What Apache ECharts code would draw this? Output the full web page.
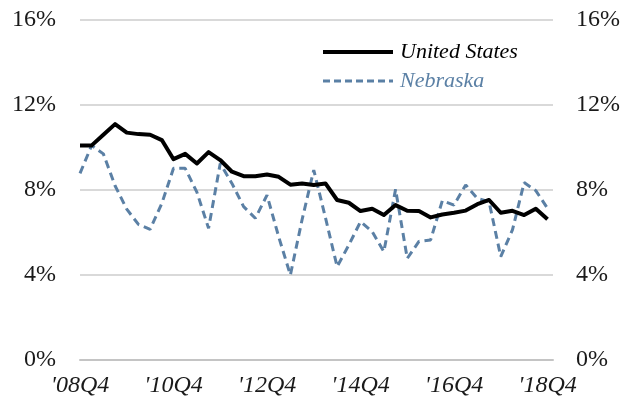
<!DOCTYPE html>
<html>
<head>
<meta charset="utf-8">
<script src="https://cdn.jsdelivr.net/npm/echarts@6/dist/echarts.min.js"></script>
<style>html,body{margin:0;padding:0;background:#fff;}#c{width:636px;height:409px;}</style>
</head>
<body>
<div id="c"></div>
<script>
var quarters = ["'08Q4","'09Q1","'09Q2","'09Q3","'09Q4","'10Q1","'10Q2","'10Q3","'10Q4","'11Q1","'11Q2","'11Q3","'11Q4","'12Q1","'12Q2","'12Q3","'12Q4","'13Q1","'13Q2","'13Q3","'13Q4","'14Q1","'14Q2","'14Q3","'14Q4","'15Q1","'15Q2","'15Q3","'15Q4","'16Q1","'16Q2","'16Q3","'16Q4","'17Q1","'17Q2","'17Q3","'17Q4","'18Q1","'18Q2","'18Q3","'18Q4"];
var tickLabels = ["'08Q4","'10Q4","'12Q4","'14Q4","'16Q4","'18Q4"];
var unitedStates = [10.1,10.1,10.6,11.1,10.7,10.63,10.6,10.35,9.45,9.7,9.25,9.78,9.41,8.86,8.65,8.65,8.73,8.62,8.25,8.31,8.24,8.31,7.53,7.4,7.01,7.12,6.82,7.29,7.02,7.01,6.71,6.85,6.93,7.03,7.33,7.53,6.93,7.02,6.82,7.12,6.62];
var nebraska = [8.78,10.1,9.7,8.2,7.1,6.38,6.15,7.37,9.02,9.02,7.9,6.2,9.25,8.31,7.22,6.67,7.76,5.8,4.0,6.6,8.94,6.7,4.39,5.41,6.51,6.04,5.1,8.03,4.78,5.58,5.65,7.5,7.29,8.24,7.6,7.45,4.86,6.12,8.35,7.97,7.14];
var seriesNames = ["United States","Nebraska"];

var usColor = '#000000';
var neColor = '#5b80a5';
var font = 'Liberation Serif';

function pairs(arr){ return arr.map(function(v,i){ return [i, v]; }); }

var chart = echarts.init(document.getElementById('c'), null, {renderer:'canvas'});
chart.setOption({
  animation: false,
  backgroundColor: '#ffffff',
  grid: {left: 80, right: 83, top: 20, bottom: 49, containLabel: false},
  legend: {
    orient: 'vertical',
    left: 316, top: 36,
    itemWidth: 70, itemHeight: 14, itemGap: 7,
    itemStyle: {opacity: 0},
    data: [
      {name: seriesNames[0], textStyle: {color: usColor}, lineStyle: {width: 4, color: usColor}},
      {name: seriesNames[1], textStyle: {color: neColor}, lineStyle: {width: 3, color: neColor, type: [7, 4]}}
    ],
    textStyle: {fontFamily: font, fontStyle: 'italic', fontSize: 22, padding: [0,0,0,2]}
  },
  xAxis: {
    type: 'value',
    min: 0, max: 40.47, interval: 8,
    axisLine: {show: true, onZero: false, lineStyle: {color: '#c4c4c4', width: 2}},
    axisTick: {show: false}, splitLine: {show: false},
    axisLabel: {
      margin: 14,
      fontFamily: font, fontStyle: 'italic', fontSize: 24, color: '#1a1a1a',
      showMaxLabel: false,
      formatter: function(v){
        if (Math.abs(v - Math.round(v)) > 1e-6) return '';
        var i = Math.round(v);
        if (i % 8 !== 0) return '';
        return tickLabels[i/8] || '';
      }
    }
  },
  yAxis: [
    {
      type: 'value', position: 'left', min: 0, max: 16, interval: 4,
      axisLine: {show: false}, axisTick: {show: false},
      splitLine: {show: true, lineStyle: {color: '#d9d9d9', width: 2}},
      axisLabel: {margin: 24, fontFamily: font, fontSize: 24, color: '#1a1a1a', formatter: '{value}%'}
    },
    {
      type: 'value', position: 'right', min: 0, max: 16, interval: 4,
      axisLine: {show: false}, axisTick: {show: false}, splitLine: {show: false},
      axisLabel: {margin: 23, fontFamily: font, fontSize: 24, color: '#1a1a1a', formatter: '{value}%'}
    }
  ],
  series: [
    {
      name: seriesNames[0], type: 'line', symbol: 'none', z: 3,
      data: pairs(unitedStates),
      lineStyle: {color: usColor, width: 4, join: 'round'},
      itemStyle: {color: usColor}
    },
    {
      name: seriesNames[1], type: 'line', symbol: 'none', z: 2,
      data: pairs(nebraska),
      lineStyle: {color: neColor, width: 3, type: [8, 5]},
      itemStyle: {color: neColor}
    }
  ]
});
</script>
</body>
</html>
